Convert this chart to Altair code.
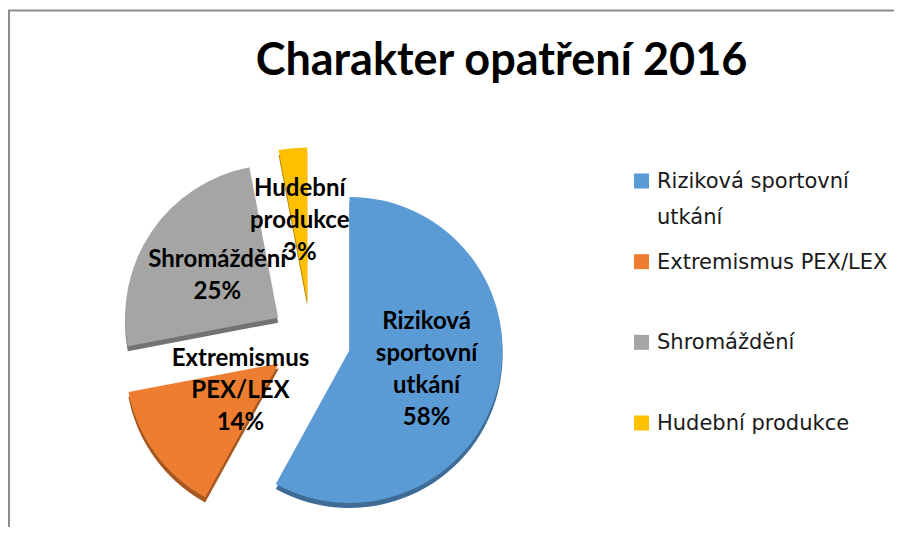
import textwrap
import altair as alt
import numpy as np
import pandas as pd

# ---- data ----
categories = ["Riziková sportovní utkání", "Extremismus PEX/LEX", "Shromáždění", "Hudební produkce"]
values = [58, 14, 25, 3]
colors = ["#5B9BD5", "#ED7D31", "#A5A5A5", "#FFC000"]
title_text = "Charakter opatření 2016"

# ---- layout / style constants ----
W, H = 886, 519
CX, CY = 303, 332          # pie centre (before explosion)
R = 153                    # pie radius
EXPLODE = 0.26             # explosion, fraction of radius
LABEL_DEFAULT = 0.52       # label distance from slice apex, fraction of radius
LABEL_DIST = {"Extremismus PEX/LEX": 0.31, "Shromáždění": 0.48}
LABEL_LH = 32              # label line height (px)
RIM = 5                    # 3D rim thickness (px)
FONT_BOLD = "Lato"
FONT_LEG = "DejaVu Sans"

total = sum(values)
df = pd.DataFrame({"cat": categories, "value": values})
df["t1"] = np.cumsum(values)
df["t0"] = df["t1"] - df["value"]
mid = (df["t0"] + df["t1"]) / 2 / total * 2 * np.pi
df["ex"] = EXPLODE * np.sin(mid)
df["ey"] = -EXPLODE * np.cos(mid)
ld = df["cat"].map(lambda c: LABEL_DIST.get(c, LABEL_DEFAULT))
pct = (df["value"] / total * 100).round().astype(int).astype(str) + "%"
df["lab"] = df["cat"].map(lambda c: textwrap.fill(c, 11)) + "\n" + pct
nlines = df["lab"].str.count("\n") + 1
df["lx"] = df["ex"] + ld * np.sin(mid)
# centre the multi-line block vertically on the label point
df["ly"] = df["ey"] - ld * np.cos(mid) - (nlines - 1) * LABEL_LH / 2 / R
df["leglab"] = df["cat"].map(lambda c: textwrap.fill(c, 20))

xs = alt.Scale(domain=[-1, 1], range=[CX - R, CX + R])
ys = alt.Scale(domain=[-1, 1], range=[CY - R, CY + R])
color = alt.Color("cat:N", scale=alt.Scale(domain=categories, range=colors), legend=None)

base = alt.Chart(df)
pie_enc = dict(
    x=alt.X("ex:Q", scale=xs, axis=None),
    y=alt.Y("ey:Q", scale=ys, axis=None),
    theta=alt.Theta("t0:Q", scale=alt.Scale(domain=[0, total], range=[0, 2 * np.pi]), stack=False),
    theta2="t1:Q",
)

rim = base.mark_arc(outerRadius=R, yOffset=RIM).encode(color=color, **pie_enc)
rim_shade = base.mark_arc(outerRadius=R, yOffset=RIM, fill="black", fillOpacity=0.3).encode(**pie_enc)
pie = base.mark_arc(outerRadius=R).encode(color=color, **pie_enc)

labels = base.mark_text(
    font=FONT_BOLD, fontSize=24, fontWeight="bold", lineBreak="\n", lineHeight=LABEL_LH,
    align="center", baseline="middle", color="black",
).encode(
    x=alt.X("lx:Q", scale=xs, axis=None),
    y=alt.Y("ly:Q", scale=ys, axis=None),
    text="lab:N",
)

leg_y = alt.Y("cat:N", scale=alt.Scale(domain=categories, range=[173, 415], padding=0), axis=None)

leg_sym = base.mark_point(shape="square", filled=True, size=225, opacity=1).encode(
    x=alt.value(633.5), y=leg_y, color=color,
)
leg_txt = base.mark_text(
    font=FONT_LEG, fontSize=21, align="left", baseline="alphabetic", dy=7,
    lineBreak="\n", lineHeight=36, color="#1a1a1a",
).encode(x=alt.value(649), y=leg_y, text="leglab:N")

tdf = pd.DataFrame({"t": [title_text]})
title = alt.Chart(tdf).mark_text(
    font=FONT_BOLD, fontSize=45, fontWeight="bold", align="center", baseline="alphabetic", color="black",
).encode(x=alt.value(493.5), y=alt.value(67), text="t:N")

one = pd.DataFrame({"a": [0]})
top_rule = alt.Chart(one).mark_rule(color="#8c8c8c", strokeWidth=2).encode(
    x=alt.value(0), x2=alt.value(W), y=alt.value(2.5))
left_rule = alt.Chart(one).mark_rule(color="#8c8c8c", strokeWidth=2).encode(
    x=alt.value(1), y=alt.value(2), y2=alt.value(H))

chart = alt.layer(rim, rim_shade, pie, labels, leg_sym, leg_txt, title, top_rule, left_rule).resolve_scale(
    x="independent", y="independent"
).properties(
    width=W, height=H, padding=0, autosize=alt.AutoSizeParams(type="none"), background="white"
).configure_view(stroke=None)

chart.save("out.html", embed_options={"renderer": "svg", "actions": False})
